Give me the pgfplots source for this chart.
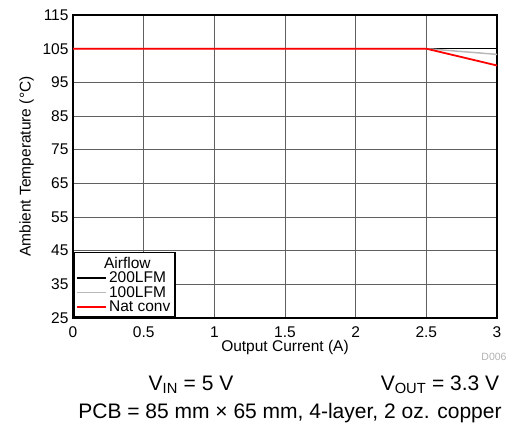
\documentclass[border=0pt]{standalone}
\usepackage{fontspec}
\setmainfont{Liberation Sans}
\usepackage{pgfplots}
\pgfplotsset{compat=1.18}
\begin{document}
\begin{tikzpicture}[x=1pt,y=1pt]
\useasboundingbox (0,0) rectangle (521,436);
\begin{axis}[
  at={(73pt,118pt)}, anchor=south west,
  scale only axis, width=424pt, height=303pt,
  xmin=0, xmax=3, ymin=25, ymax=115,
  xtick={0,0.5,...,3}, ytick={25,35,...,115},
  xticklabels={0,0.5,1,1.5,2,2.5,3},
  tick style={draw=none},
  grid=major,
  major grid style={draw=gray!75!black, line width=0.6pt},
  axis line style={line width=1.6pt},
  tick label style={font=\fontsize{15.5}{17}\selectfont},
  xticklabel style={yshift=-5pt},
  yticklabel style={xshift=-1pt},
  /pgf/number format/assume math mode=true,
  xlabel={Output Current (A)},
  ylabel={Ambient Temperature (°C)},
  label style={font=\fontsize{15.5}{17}\selectfont},
  xlabel style={yshift=4pt},
  ylabel style={yshift=2pt},
  legend cell align=left,
  legend style={at={(0,0)}, anchor=south west, draw=black, line width=1.6pt,
    font=\fontsize{15.5}{17}\selectfont, inner sep=2pt, row sep=-3pt,
    nodes={inner sep=2.5pt}},
  legend image code/.code={\draw[#1] (0cm,0pt) -- (29pt,0pt);},
]
\addlegendimage{empty legend}
\addlegendentry{\hspace*{-5pt}Airflow}
\addplot[black, line width=1.5pt] coordinates {(0,105) (2.5,105) (3,105)};
\addlegendentry{200LFM}
\addplot[gray!55, line width=1.5pt] coordinates {(0,105) (2.5,105) (3,103.3)};
\addlegendentry{100LFM}
\addplot[red, line width=1.8pt] coordinates {(0,105) (2.5,105) (3,100)};
\addlegendentry{Nat conv}
\end{axis}
\node[text=gray!60, font=\fontsize{10.5}{12}\selectfont] at (494,79) {D006};
\node[font=\fontsize{21}{24}\selectfont] at (191,51) {V\textsubscript{IN} = 5 V};
\node[font=\fontsize{21}{24}\selectfont] at (440,51) {V\textsubscript{OUT} = 3.3 V};
\node[font=\fontsize{21}{24}\selectfont] at (290,23) {PCB = 85 mm × 65 mm, 4-layer, 2 oz. copper};
\end{tikzpicture}
\end{document}
